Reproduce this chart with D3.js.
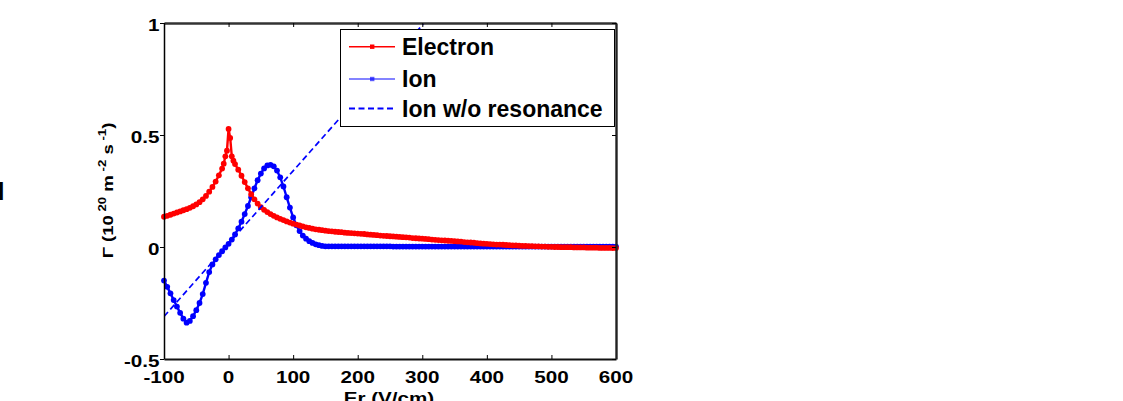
<!DOCTYPE html>
<html><head><meta charset="utf-8">
<script src="https://cdn.jsdelivr.net/npm/d3@7"></script>
<style>
body{margin:0;background:#fff}
svg{display:block}
text{font-family:"Liberation Sans",Arial,sans-serif;font-weight:bold;fill:#000}
</style>
</head><body>
<svg id="c" width="1123" height="401"></svg>
<script>
// ---- data ----
const xTicks = [-100, 0, 100, 200, 300, 400, 500, 600];
const yTicks = [-0.5, 0, 0.5, 1];
const xTickLabels = ["-100","0","100","200","300","400","500","600"];
const yTickLabels = ["-0.5","0","0.5","1"];
const seriesNames = ["Electron", "Ion", "Ion w/o resonance"];
const xLabel = "Er (V/cm)";

const electronEr = [...d3.range(-100, -10, 5), -10, -7.5, -5, -2.5, 0, 2.5, 5, 7.5, 10, ...d3.range(15, 601, 5)];
const electronFlux = [
  .135,.139,.144,.149,.154,.159,.164,.169,.175,.182,.190,.200,.213,.228,.247,.268,.292,.320,
  .350,.372,.405,.430,.527,.487,.405,.385,.370,
  .345,.318,.290,.262,.236,.213,.194,.178,.166,.156,.147,.139,.132,.126,.120,.114,.109,.104,.100,.096,
  .092,.088,.085,.082,.079,.077,.075,.073,.071,.070,.068,.067,.066,.064,.063,.062,.061,
  .060,.059,.058,.056,.055,.054,.053,.051,.050,.049,.048,.047,.046,.045,.044,.043,.042,.040,.039,.038,
  .037,.036,.035,.033,.032,.031,.030,.029,.028,.027,.026,.025,.024,.022,.021,.020,.019,.017,.016,.015,
  .014,.013,.012,.011,.011,.010,.009,.008,.007,.007,.006,.005,.005,.004,.004,.003,.003,.002,.002,.001,
  .001,.000,.000,-.001,-.001,-.001,-.001,-.002,-.002,-.002,-.002,-.003,-.003,-.003,-.003,-.004,-.004,-.004,-.004,-.005,-.005
];

const ionEr = d3.range(-100, 601, 5);
const ionFlux = [
  -.150,-.178,-.207,-.237,-.266,-.294,-.320,-.338,-.330,-.309,-.282,-.250,-.210,-.160,-.112,-.078,-.055,-.036,-.019,-.002,
  .014,.033,.056,.083,.113,.147,.183,.222,.262,.298,.328,.351,.364,.367,.360,.341,.311,.270,.222,.176,
  .132,.097,.071,.051,.037,.026,.018,.012,.008,.005,.003,
  .003,.003,.003,.003,.003,.003,.003,.003,.003,.003,.003,.003,.003,.003,.003,.003,.003,.003,.003,.003,
  .002,.002,.002,.002,.002,.002,.002,.002,.002,.002,.002,.002,.002,.002,.002,.002,.002,.002,.002,.002,
  .002,.002,.002,.002,.002,.002,.002,.002,.002,.002,.002,.002,.002,.002,.002,.002,.002,.002,.002,.002,
  .002,.002,.002,.002,.002,.002,.002,.002,.002,.002,.002,.002,.002,.002,.002,.002,.002,.002,.002,.002,
  .002,.002,.002,.002,.002,.002,.002,.002,.002,.002
];

const noResEr = [-100, 0, 100, 200, 300, 330];
const noResFlux = [-0.31, 0.015, 0.34, 0.665, 0.99, 1.088];

// ---- layout ----
const svg = d3.select("#c");
const L = 164, R = 616, T = 23, B = 359;
const x = d3.scaleLinear().domain([-100, 600]).range([L, R]);
const y = d3.scaleLinear().domain([-0.5, 1]).range([B, T]);

svg.append("defs").append("clipPath").attr("id", "clip")
  .append("rect").attr("x", L).attr("y", T).attr("width", R - L).attr("height", B - T);

const line = d3.line().x(d => x(d[0])).y(d => y(d[1]));

function drawSeries(xs, ys, color) {
  const pts = xs.map((v, i) => [v, ys[i]]);
  const gg = svg.append("g");
  gg.append("path").datum(pts).attr("d", line)
    .attr("fill", "none").attr("stroke", color).attr("stroke-width", 2.4);
  gg.selectAll("circle").data(pts).enter().append("circle")
    .attr("cx", d => x(d[0])).attr("cy", d => y(d[1])).attr("r", 2.9).attr("fill", color);
}
drawSeries(ionEr, ionFlux, "#0000ff");
drawSeries(electronEr, electronFlux, "#ff0000");

svg.append("g").attr("clip-path", "url(#clip)").append("path")
  .datum(noResEr.map((v, i) => [v, noResFlux[i]]))
  .attr("d", line).attr("fill", "none").attr("stroke", "#0000ff")
  .attr("stroke-width", 1.7).attr("stroke-dasharray", "6,3.5");

// ---- axes / frame ----
function styleAxis(g, col, w) {
  g.select(".domain").attr("stroke", col).attr("stroke-width", w);
  g.selectAll(".tick line").attr("stroke", "#000").attr("stroke-width", 1);
}
svg.append("g").attr("transform", `translate(0,${B})`)
  .call(d3.axisBottom(x).tickValues(xTicks).tickSize(-4).tickSizeOuter(0).tickFormat(""))
  .call(g => styleAxis(g, "#111", 1.8));
svg.append("g").attr("transform", `translate(0,${T})`)
  .call(d3.axisTop(x).tickValues(xTicks).tickSize(-4).tickSizeOuter(0).tickFormat(""))
  .call(g => styleAxis(g, "#333", 2.4));
svg.append("g").attr("transform", `translate(${L},0)`)
  .call(d3.axisLeft(y).tickValues(yTicks).tickSize(4).tickSizeOuter(0).tickFormat(""))
  .call(g => styleAxis(g, "#000", 1.5));
svg.append("g").attr("transform", `translate(${R},0)`)
  .call(d3.axisRight(y).tickValues(yTicks).tickSize(-4).tickSizeOuter(0).tickFormat(""))
  .call(g => styleAxis(g, "#222", 2.4));

// tick labels
svg.append("g").selectAll("text").data(xTicks).enter().append("text")
  .attr("transform", d => `translate(${x(d)},382.5) scale(1.25,1)`)
  .attr("text-anchor", "middle").attr("font-size", 16.5)
  .text((d, i) => xTickLabels[i]);
svg.append("g").selectAll("text").data(yTicks).enter().append("text")
  .attr("transform", d => `translate(159.5,${y(d) + 7.5}) scale(1.25,1)`)
  .attr("text-anchor", "end").attr("font-size", 16.5)
  .text((d, i) => yTickLabels[i]);

// x label
svg.append("text").attr("transform", "translate(389,404) scale(1.25,1)")
  .attr("text-anchor", "middle").attr("font-size", 16.5).text(xLabel);

// y label
const yl = svg.append("text").attr("transform", "translate(113,190.5) rotate(-90) scale(1.2,1)")
  .attr("text-anchor", "middle").attr("font-size", 15.5);
yl.append("tspan").text("Γ (10");
yl.append("tspan").attr("dy", -7).attr("font-size", 11).text(" 20");
yl.append("tspan").attr("dy", 7).text(" m");
yl.append("tspan").attr("dy", -7).attr("font-size", 11).text(" -2");
yl.append("tspan").attr("dy", 7).text(" s");
yl.append("tspan").attr("dy", -7).attr("font-size", 11).text(" -1");
yl.append("tspan").attr("dy", 7).text(")");

// ---- legend ----
const lg = svg.append("g");
lg.append("rect").attr("x", 340.5).attr("y", 29.5).attr("width", 274).attr("height", 97)
  .attr("fill", "#fff").attr("stroke", "#000").attr("stroke-width", 1);
const rowsY = [46.7, 79, 108.5];
const legColors = ["#ff0000", "#0000ff", "#0000ff"];
seriesNames.forEach((name, i) => {
  const cy = rowsY[i];
  lg.append("line").attr("x1", 349).attr("x2", 395).attr("y1", cy).attr("y2", cy)
    .attr("stroke", legColors[i]).attr("stroke-width", i === 2 ? 2 : 1.4)
    .attr("stroke-opacity", i === 1 ? 0.65 : 1)
    .attr("stroke-dasharray", i === 2 ? "6,3.5" : null);
  if (i < 2) {
    lg.append("rect").attr("x", 370).attr("y", cy - 2.2).attr("width", 4.4).attr("height", 4.4)
      .attr("fill", legColors[i]).attr("fill-opacity", i === 1 ? 0.65 : 1);
  }
  lg.append("text").attr("x", 402).attr("y", cy + 8.3).attr("font-size", 23).text(name);
});

// cut-off glyph at far left edge
svg.append("text").attr("x", 4.5).attr("y", 200).attr("text-anchor", "end")
  .attr("font-size", 25).text("I");
</script>
</body></html>
